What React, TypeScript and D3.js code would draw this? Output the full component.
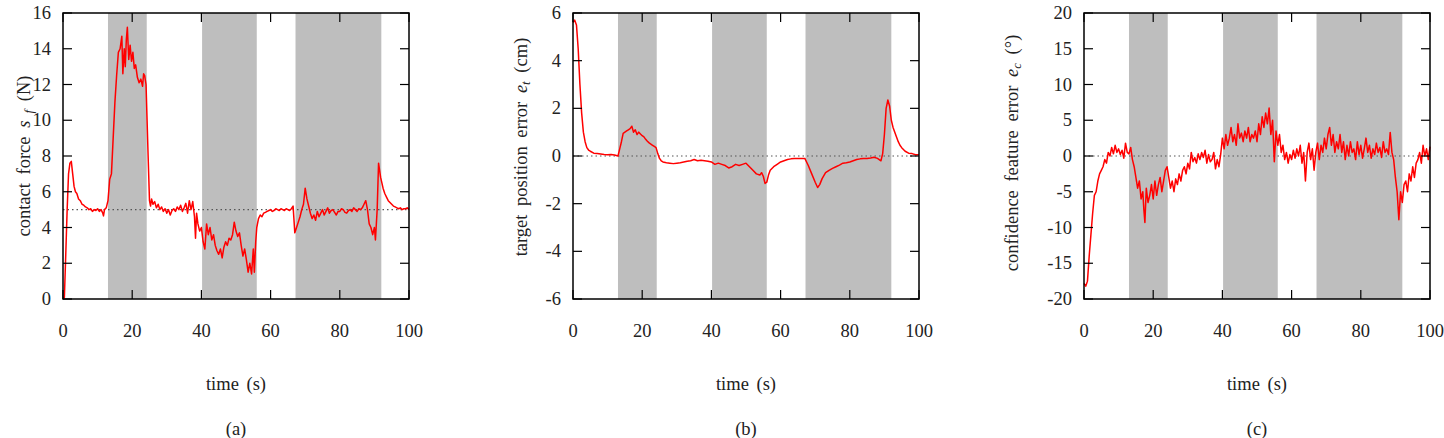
import React from "react";
import * as d3 from "d3";

// ---------- data ----------
const timeTicks = [0, 20, 40, 60, 80, 100];
const shadedIntervals: [number, number][] = [
  [13, 24.2],
  [40.2, 56],
  [67.2, 92],
];

const forceTicks = [0, 2, 4, 6, 8, 10, 12, 14, 16];
const forceRef = 5;
const forceSeries: [number, number][] = [
  [0, 0], [0.4, 0.1], [0.8, 2.5], [1.2, 5], [1.6, 7.0], [2.0, 7.6], [2.4, 7.7], [2.8, 7.0],
  [3.2, 6.3], [3.6, 6.0], [4, 5.9], [4.5, 5.6], [5, 5.5], [5.5, 5.3], [6, 5.25], [6.5, 5.15],
  [7, 5.1], [7.5, 5.0], [8, 5.05], [8.5, 4.9], [9, 5.0], [9.5, 4.95], [10, 5.05], [10.5, 4.9],
  [11, 5.0], [11.5, 4.8], [11.7, 4.65], [12, 5.0], [12.5, 5.1], [13, 5.5], [13.5, 6.7], [14, 7.0],
  [14.5, 9.0], [15, 11.0], [15.5, 12.5], [16, 13.8], [16.5, 14.0], [17, 14.7], [17.3, 12.6],
  [17.7, 14.0], [18, 13.0], [18.3, 14.5], [18.6, 15.2], [19, 13.4], [19.4, 14.2], [19.8, 13.3],
  [20.2, 13.8], [20.6, 12.9], [21, 13.1], [21.5, 12.4], [22, 12.1], [22.5, 12.3], [23, 11.9],
  [23.3, 12.6], [23.6, 12.5], [24, 12.0], [24.3, 10.0], [24.6, 8.0], [25, 5.5], [25.3, 5.2],
  [25.6, 5.6], [26, 5.3], [26.5, 5.45], [27, 5.1], [27.5, 5.3], [28, 5.0], [28.5, 5.15],
  [29, 4.9], [29.5, 5.05], [30, 4.8], [30.5, 5.0], [31, 4.7], [31.5, 4.95], [32, 5.05],
  [32.5, 4.9], [33, 5.15], [33.5, 5.0], [34, 5.25], [34.5, 4.9], [35, 5.1], [35.5, 5.35],
  [36, 4.8], [36.5, 5.5], [37, 5.0], [37.5, 5.45], [38, 4.6], [38.3, 3.4], [38.6, 4.8],
  [39, 4.2], [39.5, 3.8], [40, 4.0], [40.5, 3.2], [41, 2.8], [41.5, 4.2], [42, 3.6], [42.5, 4.0],
  [43, 3.3], [43.5, 3.6], [44, 3.0], [44.5, 2.7], [45, 2.5], [45.5, 2.8], [46, 2.3], [46.5, 2.9],
  [47, 3.2], [47.5, 3.0], [48, 3.4], [48.5, 3.3], [49, 3.6], [49.5, 4.3], [50, 3.8], [50.5, 3.5],
  [51, 3.7], [51.5, 3.0], [52, 2.4], [52.5, 2.8], [53, 2.2], [53.5, 1.5], [54, 2.0], [54.5, 1.4],
  [55, 2.8], [55.3, 1.5], [55.7, 3.2], [56, 4.0], [56.5, 4.5], [57, 4.7], [57.5, 4.6], [58, 4.8],
  [58.5, 4.85], [59, 4.9], [59.5, 4.95], [60, 5.0], [60.5, 4.9], [61, 4.95], [61.5, 5.05],
  [62, 5.0], [62.5, 4.95], [63, 5.05], [63.5, 5.0], [64, 4.95], [64.5, 5.05], [65, 5.0],
  [65.5, 4.95], [66, 5.05], [66.5, 5.2], [67, 3.7], [67.5, 4.0], [68, 4.3], [68.5, 4.6],
  [69, 5.0], [69.5, 5.3], [70, 6.2], [70.5, 5.6], [71, 5.2], [71.5, 4.8], [72, 4.5], [72.5, 4.7],
  [73, 4.4], [73.5, 4.9], [74, 4.6], [74.5, 4.8], [75, 5.0], [75.5, 4.7], [76, 4.9], [76.5, 5.1],
  [77, 4.8], [77.5, 4.95], [78, 5.0], [78.5, 4.85], [79, 4.7], [79.5, 4.9], [80, 4.9], [80.5, 5.05],
  [81, 5.0], [81.5, 4.85], [82, 4.8], [82.5, 4.95], [83, 5.0], [83.5, 4.9], [84, 5.1], [84.5, 5.0],
  [85, 4.9], [85.5, 5.05], [86, 5.0], [86.5, 5.1], [87, 5.3], [87.5, 5.5], [88, 5.0], [88.5, 4.2],
  [89, 4.0], [89.5, 3.6], [90, 4.0], [90.3, 3.3], [90.8, 5.0], [91.2, 7.6], [91.8, 6.8],
  [92.5, 6.2], [93, 5.9], [93.5, 5.7], [94, 5.5], [94.5, 5.4], [95, 5.3], [95.5, 5.2], [96, 5.15],
  [96.5, 5.1], [97, 5.05], [97.5, 5.1], [98, 5.0], [98.5, 5.05], [99, 5.05], [99.5, 5.1], [100, 5.0],
];

const targetTicks = [-6, -4, -2, 0, 2, 4, 6];
const targetRef = 0;
const targetSeries: [number, number][] = [
  [0, 5.6], [0.5, 5.7], [1, 5.5], [1.5, 4.5], [2, 3.0], [2.5, 1.8], [3, 1.0], [3.5, 0.6],
  [4, 0.35], [4.5, 0.25], [5, 0.2], [6, 0.12], [7, 0.1], [8, 0.08], [9, 0.06], [10, 0.05],
  [11, 0.06], [12, 0.04], [13, 0.0], [13.5, 0.3], [14, 0.6], [14.5, 0.95], [15, 1.0], [15.5, 1.05],
  [16, 1.1], [16.5, 1.15], [17, 1.25], [17.5, 1.0], [18, 1.1], [18.5, 0.9], [19, 1.0], [19.5, 0.92],
  [20, 0.85], [20.5, 0.8], [21, 0.7], [21.5, 0.62], [22, 0.55], [22.5, 0.5], [23, 0.45],
  [23.5, 0.4], [24, 0.35], [24.5, 0.1], [25, -0.1], [25.5, -0.2], [26, -0.25], [27, -0.28],
  [28, -0.3], [29, -0.32], [30, -0.3], [31, -0.28], [32, -0.25], [33, -0.22], [34, -0.2],
  [35, -0.15], [36, -0.2], [37, -0.18], [38, -0.2], [39, -0.22], [40, -0.25], [41, -0.35],
  [42, -0.3], [43, -0.35], [44, -0.4], [45, -0.5], [46, -0.45], [47, -0.35], [48, -0.4],
  [49, -0.35], [50, -0.3], [51, -0.45], [52, -0.6], [53, -0.75], [54, -0.8], [54.5, -0.7],
  [55, -0.85], [55.5, -1.15], [56, -1.1], [56.5, -0.8], [57, -0.6], [58, -0.45], [59, -0.35],
  [60, -0.25], [61, -0.2], [62, -0.15], [63, -0.12], [64, -0.1], [65, -0.1], [66, -0.1],
  [67, -0.1], [68, -0.4], [69, -0.75], [70, -1.1], [70.7, -1.32], [71.3, -1.2], [72, -0.95],
  [73, -0.7], [74, -0.6], [75, -0.52], [76, -0.45], [77, -0.38], [78, -0.3], [79, -0.28],
  [80, -0.25], [81, -0.2], [82, -0.15], [83, -0.12], [84, -0.1], [85, -0.1], [86, -0.08],
  [87, -0.05], [88, -0.1], [89, -0.2], [89.5, 0.1], [90, 0.9], [90.5, 2.0], [91, 2.35],
  [91.5, 2.1], [92, 1.5], [92.5, 1.2], [93, 1.0], [93.5, 0.8], [94, 0.6], [94.5, 0.45],
  [95, 0.35], [96, 0.2], [97, 0.12], [98, 0.1], [99, 0.05], [100, 0.05],
];

const confTicks = [-20, -15, -10, -5, 0, 5, 10, 15, 20];
const confRef = 0;
const confSeries: [number, number][] = [
  [0, -17.8], [0.5, -18.2], [1, -17.5], [1.5, -14], [2, -11], [2.5, -8], [3, -5.5], [3.5, -5],
  [4, -3.5], [4.5, -2.5], [5, -2.0], [5.5, -1.5], [6, -0.5], [6.5, -1], [7, 0.5], [7.5, 0],
  [8, 1.2], [8.5, 0.3], [9, 1.5], [9.5, 0.5], [10, 1.0], [10.5, 0.2], [11, 0.8], [11.5, -0.3],
  [12, 1.8], [12.5, 0.5], [13, 0.3], [13.5, 1.2], [14, -0.5], [14.5, -1.5], [15, -3.0],
  [15.5, -4.5], [16, -3.5], [16.5, -6], [17, -5], [17.3, -7.5], [17.6, -9.3], [18, -4.5],
  [18.5, -6.5], [19, -5.5], [19.5, -4], [20, -6], [20.5, -3.5], [21, -5.5], [21.5, -4], [22, -3],
  [22.5, -5], [23, -3.5], [23.5, -2], [24, -1.5], [24.5, -3], [25, -4.5], [25.5, -3.5], [26, -5],
  [26.5, -3.2], [27, -4], [27.5, -2.5], [28, -3.5], [28.5, -2], [29, -1.5], [29.5, -2.5],
  [30, -1.0], [30.5, -1.8], [31, 0.5], [31.5, -0.8], [32, -0.2], [32.5, -1.0], [33, 0.3],
  [33.5, -0.5], [34, 0.5], [34.5, -0.2], [35, 0.8], [35.5, -1], [36, 0.2], [36.5, -0.8],
  [37, -0.5], [37.5, 0.5], [38, -1.8], [38.5, -0.5], [39, -1.5], [39.5, 0.2], [40, 2.5],
  [40.5, 1.0], [41, 3.0], [41.5, 1.5], [42, 2.5], [42.5, 4.0], [43, 2.0], [43.5, 3.0], [44, 1.5],
  [44.5, 4.5], [45, 2.5], [45.5, 3.2], [46, 2.0], [46.5, 3.5], [47, 2.5], [47.5, 4.0], [48, 2.0],
  [48.5, 3.0], [49, 2.5], [49.5, 3.5], [50, 2.0], [50.5, 4.5], [51, 3.0], [51.5, 5.5], [52, 4.0],
  [52.5, 6.0], [53, 4.5], [53.5, 6.7], [54, 3.0], [54.5, 5.0], [55, -0.8], [55.5, 3.5],
  [56, 1.5], [56.5, 3.0], [57, 0.5], [57.5, 1.5], [58, -0.5], [58.5, 0.5], [59, -1.0],
  [59.5, 0.2], [60, -0.5], [60.5, 0.8], [61, -0.3], [61.5, 1.0], [62, 0], [62.5, 1.5],
  [63, -1.0], [63.5, 0.5], [64, -3.5], [64.5, 0.5], [65, 1.8], [65.5, -0.5], [66, 1.0],
  [66.5, -2.0], [67, 0.5], [67.5, 1.8], [68, -0.5], [68.5, 1.5], [69, 0.5], [69.5, 2.5],
  [70, 1.0], [70.5, 3.0], [71, 4.0], [71.5, 1.5], [72, 3.0], [72.5, 0.5], [73, 2.0], [73.5, 1.0],
  [74, 3.0], [74.5, 0.5], [75, 2.0], [75.5, -0.5], [76, 1.5], [76.5, 0.0], [77, 2.0], [77.5, 0.5],
  [78, 1.0], [78.5, -0.5], [79, 2.0], [79.5, 0.2], [80, 1.5], [80.5, -0.3], [81, 1.0], [81.5, 2.5],
  [82, 0.5], [82.5, 1.5], [83, -0.3], [83.5, 1.0], [84, 0.2], [84.5, 1.8], [85, 0.5], [85.5, 1.2],
  [86, -0.2], [86.5, 2.0], [87, 0.5], [87.5, 1.0], [88, 0.2], [88.5, 3.3], [89, 0.5],
  [89.5, -0.5], [90, -3], [90.5, -5], [91, -8.9], [91.5, -5], [92, -6.5], [92.5, -4], [93, -3.5],
  [93.5, -5], [94, -2.5], [94.5, -3.5], [95, -1.5], [95.5, -3.0], [96, -1.0], [96.5, -0.5],
  [97, 0.5], [97.5, -1.0], [98, 1.5], [98.5, 0.0], [99, 1.0], [99.5, -0.5], [100, 1.3],
];

// ---------- layout ----------
const W = 1444;
const H = 438;
const TOP = 13;
const BOTTOM = 299;
const FONT = "Liberation Serif, Times New Roman, Times, DejaVu Serif, serif";
const textStyle: React.CSSProperties = { fontFamily: FONT, fontSize: 18.5, fill: "#222" };

type PanelProps = {
  left: number;
  right: number;
  yTicks: number[];
  series: [number, number][];
  refValue: number;
  ylabel: React.ReactNode;
  labelX: number;
  labelY: number;
  caption: string;
};

function Panel({ left, right, yTicks, series, refValue, ylabel, labelX, labelY, caption }: PanelProps) {
  const x = d3.scaleLinear().domain([0, 100]).range([left, right]);
  const y = d3
    .scaleLinear()
    .domain([yTicks[0], yTicks[yTicks.length - 1]])
    .range([BOTTOM, TOP]);
  const line = d3
    .line<[number, number]>()
    .x((d) => x(d[0]))
    .y((d) => y(d[1]));
  const tickLen = 9;
  const cx = (left + right) / 2;
  return (
    <g>
      {shadedIntervals.map(([a, b], i) => (
        <rect key={i} x={x(a)} y={TOP} width={x(b) - x(a)} height={BOTTOM - TOP} fill="#bebebe" />
      ))}
      <line
        x1={left}
        x2={right}
        y1={y(refValue)}
        y2={y(refValue)}
        stroke="#555"
        strokeWidth={1.2}
        strokeDasharray="1.5,3"
      />
      <path d={line(series) || ""} fill="none" stroke="#ff0000" strokeWidth={1.5} strokeLinejoin="round" />
      {yTicks.map((t) => (
        <g key={"y" + t}>
          <line x1={left} x2={left + tickLen} y1={y(t)} y2={y(t)} stroke="#000" strokeWidth={1.2} />
          <line x1={right} x2={right - tickLen} y1={y(t)} y2={y(t)} stroke="#000" strokeWidth={1.2} />
          <text x={left - 12} y={y(t)} textAnchor="end" dominantBaseline="central" style={textStyle}>
            {t}
          </text>
        </g>
      ))}
      {timeTicks.map((t) => (
        <g key={"x" + t}>
          <line x1={x(t)} x2={x(t)} y1={BOTTOM} y2={BOTTOM - tickLen} stroke="#000" strokeWidth={1.2} />
          <line x1={x(t)} x2={x(t)} y1={TOP} y2={TOP + tickLen} stroke="#000" strokeWidth={1.2} />
          <text x={x(t)} y={337} textAnchor="middle" style={textStyle}>
            {t}
          </text>
        </g>
      ))}
      <rect x={left} y={TOP} width={right - left} height={BOTTOM - TOP} fill="none" stroke="#000" strokeWidth={1.5} />
      <text
        transform={`translate(${labelX},${labelY}) rotate(-90)`}
        textAnchor="middle"
        dominantBaseline="central"
        style={{ ...textStyle, wordSpacing: "4px" }}
      >
        {ylabel}
      </text>
      <text x={cx} y={390} textAnchor="middle" style={{ ...textStyle, wordSpacing: "3px" }}>
        time (s)
      </text>
      <text x={cx} y={435} textAnchor="middle" style={textStyle}>
        {caption}
      </text>
    </g>
  );
}

export default function App() {
  return (
    <svg width={W} height={H} style={{ position: "absolute", left: 0, top: 0, background: "#fff" }}>
      <rect width={W} height={H} fill="#fff" />
      <Panel
        left={63}
        right={409}
        yTicks={forceTicks}
        series={forceSeries}
        refValue={forceRef}
        labelX={24}
        labelY={156}
        caption="(a)"
        ylabel={
          <>
            contact force <tspan fontStyle="italic">s</tspan>
            <tspan fontStyle="italic" fontSize={13} dy={4}> f</tspan>
            <tspan dy={-4}> (N)</tspan>
          </>
        }
      />
      <Panel
        left={573}
        right={919}
        yTicks={targetTicks}
        series={targetSeries}
        refValue={targetRef}
        labelX={521}
        labelY={147}
        caption="(b)"
        ylabel={
          <>
            target position error <tspan fontStyle="italic">e</tspan>
            <tspan fontStyle="italic" fontSize={13} dy={4}>t</tspan>
            <tspan dy={-4}> (cm)</tspan>
          </>
        }
      />
      <Panel
        left={1084}
        right={1430}
        yTicks={confTicks}
        series={confSeries}
        refValue={confRef}
        labelX={1012}
        labelY={153}
        caption="(c)"
        ylabel={
          <>
            confidence feature error <tspan fontStyle="italic">e</tspan>
            <tspan fontStyle="italic" fontSize={13} dy={4}>c</tspan>
            <tspan dy={-4}> (°)</tspan>
          </>
        }
      />
    </svg>
  );
}
